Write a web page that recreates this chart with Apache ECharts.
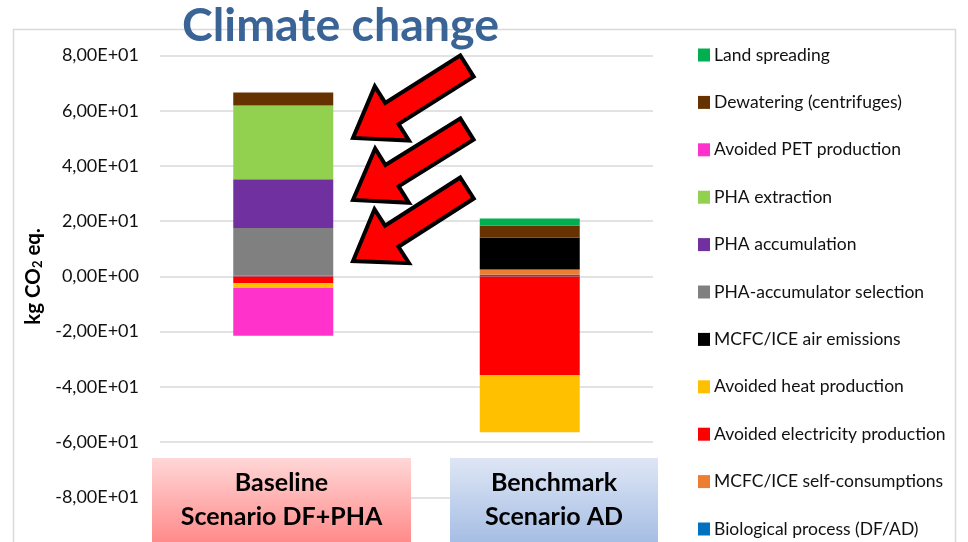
<!DOCTYPE html>
<html>
<head>
<meta charset="utf-8">
<script src="https://cdn.jsdelivr.net/npm/echarts@6/dist/echarts.min.js"></script>
<style>
  html, body { margin: 0; padding: 0; background: #fff; }
  #chart { width: 968px; height: 542px; }
</style>
</head>
<body>
<div id="chart"></div>
<script>
// Scenario categories (x axis)
const categories = ['Baseline\nScenario DF+PHA', 'Benchmark\nScenario AD'];

// Contributions per process, kg CO2 eq. [Baseline, Benchmark]
// Listed in stacking order (first series sits closest to zero)
const seriesNames = [
  'Biological process (DF/AD)',
  'MCFC/ICE self-consumptions',
  'Avoided electricity production',
  'Avoided heat production',
  'MCFC/ICE air emissions',
  'PHA-accumulator selection',
  'PHA accumulation',
  'PHA extraction',
  'Avoided PET production',
  'Dewatering (centrifuges)',
  'Land spreading'
];
const biologicalProcess     = [0.2, 0.6];
const selfConsumptions      = [0, 1.9];
const avoidedElectricity    = [-2.5, -35.7];
const avoidedHeat           = [-1.7, -20.7];
const airEmissions          = [0, 11.5];
const accumulatorSelection  = [17.3, 0];
const phaAccumulation       = [17.7, 0];
const phaExtraction         = [26.7, 0];
const avoidedPET            = [-17.3, 0];
const dewatering            = [4.7, 4.3];
const landSpreading         = [0, 2.7];

const seriesValues = [
  biologicalProcess, selfConsumptions, avoidedElectricity, avoidedHeat,
  airEmissions, accumulatorSelection, phaAccumulation, phaExtraction,
  avoidedPET, dewatering, landSpreading
];
const seriesColors = [
  '#0070C0', '#ED7D31', '#FF0000', '#FFC000',
  '#000000', '#808080', '#7030A0', '#92D050',
  '#FF33CC', '#663300', '#00B050'
];

// Value axis range and step
const yMin = -80, yMax = 80, yStep = 20;

// Scientific notation with decimal comma, e.g. 8,00E+01
function sciComma(v) {
  if (v === 0) return '0,00E+00';
  const sign = v < 0 ? '-' : '';
  let a = Math.abs(v);
  let e = Math.floor(Math.log10(a));
  let m = a / Math.pow(10, e);
  if (m >= 9.995) { m /= 10; e += 1; }
  const es = (e < 0 ? '-' : '+') + String(Math.abs(e)).padStart(2, '0');
  return sign + m.toFixed(2).replace('.', ',') + 'E' + es;
}

// Block arrow polygon from tail centre to tip
function arrowPoints(tail, tip, shaftW, headW, headL) {
  const dx = tip[0] - tail[0], dy = tip[1] - tail[1];
  const len = Math.hypot(dx, dy);
  const ux = dx / len, uy = dy / len;
  const nx = -uy, ny = ux;
  const bx = tip[0] - ux * headL, by = tip[1] - uy * headL;
  return [
    [tail[0] + nx * shaftW / 2, tail[1] + ny * shaftW / 2],
    [bx + nx * shaftW / 2, by + ny * shaftW / 2],
    [bx + nx * headW / 2, by + ny * headW / 2],
    tip,
    [bx - nx * headW / 2, by - ny * headW / 2],
    [bx - nx * shaftW / 2, by - ny * shaftW / 2],
    [tail[0] - nx * shaftW / 2, tail[1] - ny * shaftW / 2]
  ];
}

const FONT = 'Lato, "Open Sans", sans-serif';

const arrows = [
  { tail: [467, 66], tip: [353, 138] },
  { tail: [467, 129], tip: [353, 200] },
  { tail: [467, 188], tip: [353, 261] }
].map(a => ({
  type: 'polygon',
  z: 100,
  shape: { points: arrowPoints(a.tail, a.tip, 25, 64, 46) },
  style: { fill: '#FF0000', stroke: '#000', lineWidth: 4, lineJoin: 'miter' }
}));

const chart = echarts.init(document.getElementById('chart'));

chart.setOption({
  animation: false,
  backgroundColor: '#fff',
  grid: { left: 160, right: 315, top: 55.5, bottom: 44.7, containLabel: false },
  legend: {
    orient: 'vertical',
    left: 698,
    top: 46,
    padding: 0,
    itemWidth: 12,
    itemHeight: 13,
    itemGap: 29.4,
    icon: 'rect',
    data: seriesNames.slice().reverse(),
    textStyle: { fontFamily: FONT, fontSize: 17.5, color: '#111', padding: [0, 0, 0, -1] }
  },
  xAxis: {
    type: 'category',
    data: categories,
    axisLine: { show: false },
    axisTick: { show: false },
    axisLabel: { show: false }
  },
  yAxis: {
    type: 'value',
    min: yMin,
    max: yMax,
    interval: yStep,
    name: 'kg CO{sub|2} eq.',
    nameLocation: 'middle',
    nameGap: 116,
    nameRotate: 90,
    nameTextStyle: {
      fontFamily: FONT, fontSize: 20.5, fontWeight: 'bold', color: '#000',
      rich: { sub: { fontFamily: FONT, fontSize: 13, fontWeight: 'bold', color: '#000', verticalAlign: 'bottom', padding: [8, 0, 0, 0] } }
    },
    axisLine: { show: false },
    axisTick: { show: false },
    axisLabel: {
      fontFamily: FONT, fontSize: 18, color: '#111', margin: 21,
      formatter: sciComma
    },
    splitLine: { lineStyle: { color: '#d9d9d9', width: 1.5 } }
  },
  series: seriesNames.map((name, i) => ({
    name: name,
    type: 'bar',
    stack: 'total',
    barWidth: 100,
    itemStyle: { color: seriesColors[i] },
    data: seriesValues[i]
  })),
  graphic: [
    // chart frame
    {
      type: 'rect', z: -10, silent: true,
      shape: { x: 13.5, y: 29.5, width: 942, height: 540 },
      style: { fill: 'none', stroke: '#d9d9d9', lineWidth: 1.5 }
    },
    // heading
    {
      type: 'text', z: 120, left: 182, top: 2,
      style: { text: 'Climate change', fontFamily: FONT, fontSize: 46.5, fontWeight: 'bold', fill: '#3B6496' }
    },
    ...arrows,
    // scenario boxes
    {
      type: 'rect', z: 110,
      shape: { x: 152, y: 458, width: 259, height: 90 },
      style: {
        fill: new echarts.graphic.LinearGradient(0, 0, 0, 1, [
          { offset: 0, color: '#FFD7D7' }, { offset: 1, color: '#FF8585' }
        ])
      }
    },
    {
      type: 'text', z: 111, x: 281.5, y: 500,
      style: {
        text: categories[0], fontFamily: FONT, fontSize: 25, fontWeight: 'bold', fill: '#000',
        align: 'center', verticalAlign: 'middle', lineHeight: 34
      }
    },
    {
      type: 'rect', z: 110,
      shape: { x: 450, y: 458, width: 208, height: 90 },
      style: {
        fill: new echarts.graphic.LinearGradient(0, 0, 0, 1, [
          { offset: 0, color: '#DEE6F5' }, { offset: 1, color: '#A2BBE3' }
        ])
      }
    },
    {
      type: 'text', z: 111, x: 554, y: 500,
      style: {
        text: categories[1], fontFamily: FONT, fontSize: 25, fontWeight: 'bold', fill: '#000',
        align: 'center', verticalAlign: 'middle', lineHeight: 34
      }
    }
  ]
});
</script>
</body>
</html>
